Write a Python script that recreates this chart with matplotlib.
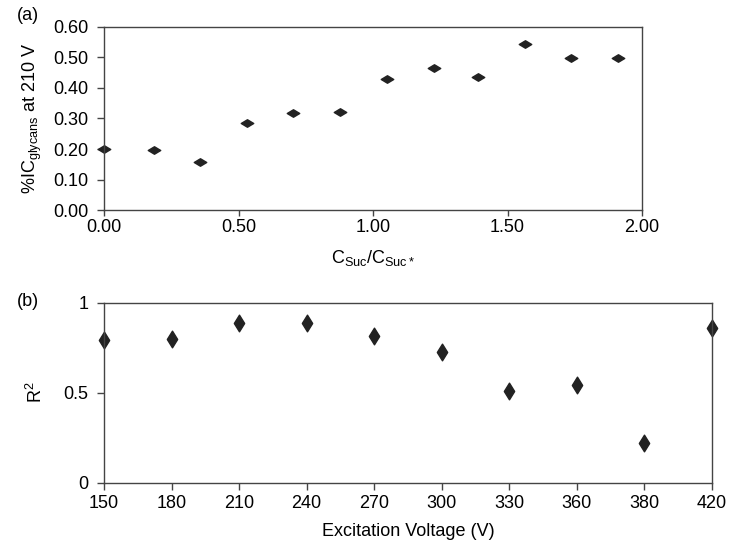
import matplotlib
matplotlib.use("Agg")
import matplotlib.pyplot as plt
from matplotlib.path import Path

# panel (a) data
ratio = [0.0, 0.186, 0.357, 0.53, 0.704, 0.877, 1.053, 1.226, 1.392, 1.565, 1.737, 1.912]
pct_ic = [0.200, 0.196, 0.157, 0.285, 0.317, 0.322, 0.430, 0.466, 0.435, 0.544, 0.497, 0.497]

# panel (b) data (categorical x axis)
voltages = ["150", "180", "210", "240", "270", "300", "330", "360", "380", "420"]
r2 = [0.793, 0.798, 0.887, 0.889, 0.815, 0.726, 0.511, 0.541, 0.22, 0.859]

plt.rcParams["font.family"] = ["Liberation Sans", "DejaVu Sans"]
plt.rcParams["mathtext.fontset"] = "custom"
plt.rcParams["mathtext.rm"] = "Liberation Sans"

flat_diamond = Path([(-1, 0), (0, 0.6), (1, 0), (0, -0.6), (-1, 0)],
                    [Path.MOVETO, Path.LINETO, Path.LINETO, Path.LINETO, Path.CLOSEPOLY])
tall_diamond = Path([(-0.62, 0), (0, 1), (0.62, 0), (0, -1), (-0.62, 0)],
                    [Path.MOVETO, Path.LINETO, Path.LINETO, Path.LINETO, Path.CLOSEPOLY])

fig = plt.figure(figsize=(7.5, 5.52), dpi=100)
W, H = 750, 552
ax1 = fig.add_axes([104 / W, 1 - 210.3 / H, (642 - 104) / W, (210.3 - 26.7) / H])
ax2 = fig.add_axes([104 / W, 1 - 482.7 / H, (712 - 104) / W, (482.7 - 302.7) / H])

mk = "#222222"
spine_c = "#444444"
fs = 13

ax1.plot(ratio, pct_ic, linestyle="none", marker=flat_diamond, markersize=9,
         color=mk, clip_on=False)
ax1.set_xlim(0, 2)
ax1.set_ylim(0, 0.6)
ax1.set_xticks([0, 0.5, 1.0, 1.5, 2.0])
ax1.set_xticklabels(["0.00", "0.50", "1.00", "1.50", "2.00"])
ax1.set_yticks([0, 0.1, 0.2, 0.3, 0.4, 0.5, 0.6])
ax1.set_yticklabels(["0.00", "0.10", "0.20", "0.30", "0.40", "0.50", "0.60"])
ax1.set_xlabel(r"C$_{\mathregular{Suc}}$/C$_{\mathregular{Suc*}}$", fontsize=fs, labelpad=9)
ax1.set_ylabel(r"%IC$_{\mathregular{glycans}}$ at 210 V", fontsize=fs, labelpad=7)

x2 = list(range(len(voltages)))
ax2.plot(x2, r2, linestyle="none", marker=tall_diamond, markersize=12,
         color=mk, clip_on=False)
ax2.set_xlim(0, len(voltages) - 1)
ax2.set_ylim(0, 1)
ax2.set_xticks(x2)
ax2.set_xticklabels(voltages)
ax2.set_yticks([0, 0.5, 1])
ax2.set_yticklabels(["0", "0.5", "1"])
ax2.set_xlabel("Excitation Voltage (V)", fontsize=fs, labelpad=8)
ax2.set_ylabel(r"R$^{\mathregular{2}}$", fontsize=fs, labelpad=13)

for ax in (ax1, ax2):
    for s in ax.spines.values():
        s.set_color(spine_c)
        s.set_linewidth(1.0)
    ax.tick_params(direction="out", width=1.0, color=spine_c, labelsize=fs)
    ax.tick_params(axis="y", length=5, pad=6)
ax1.tick_params(axis="x", length=4, pad=2)
ax2.tick_params(axis="x", length=5, pad=4)

fig.text(17 / W, 1 - 15 / H, "(a)", fontsize=fs, va="center")
fig.text(17 / W, 1 - 302 / H, "(b)", fontsize=fs, va="center")

fig.savefig("out.png", dpi=100)
